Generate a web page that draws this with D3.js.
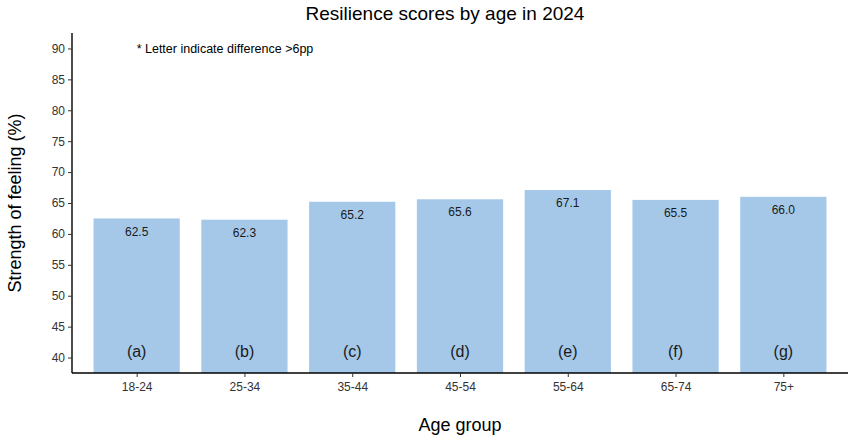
<!DOCTYPE html>
<html>
<head>
<meta charset="utf-8">
<script src="https://cdn.jsdelivr.net/npm/d3@7"></script>
<style>
  html, body { margin: 0; padding: 0; background: #fff; }
  svg { display: block; font-family: "Liberation Sans", Arial, Helvetica, sans-serif; }
</style>
</head>
<body>
<svg id="chart" width="849" height="436"></svg>
<script>
// Resilience scores by age group, 2024
const ageGroups = ["18-24", "25-34", "35-44", "45-54", "55-64", "65-74", "75+"];
const scores = [62.5, 62.3, 65.2, 65.6, 67.1, 65.5, 66.0];
const letters = ["(a)", "(b)", "(c)", "(d)", "(e)", "(f)", "(g)"];
const yTicks = [40, 45, 50, 55, 60, 65, 70, 75, 80, 85, 90];

const svg = d3.select("#chart");
const margin = { left: 72, right: 1, top: 33, bottom: 63 };
const W = 849, H = 436;
const plotW = W - margin.left - margin.right;
const plotH = H - margin.top - margin.bottom;

const g = svg.append("g").attr("transform", `translate(${margin.left},${margin.top})`);

// discrete scale with 0.6-unit padding at both ends, bars 0.8 units wide
const n = ageGroups.length;
const step = plotW / (n - 1 + 1.2);
const x = d3.scalePoint().domain(ageGroups).range([0.6 * step, plotW - 0.6 * step]);
const barW = 0.8 * step;

const y = d3.scaleLinear().domain([37.5, 92.5]).range([plotH, 0]);

// bars
g.selectAll("rect.bar")
  .data(ageGroups)
  .join("rect")
  .attr("class", "bar")
  .attr("x", d => x(d) - barW / 2)
  .attr("width", barW)
  .attr("y", (d, i) => y(scores[i]))
  .attr("height", (d, i) => y(37.5) - y(scores[i]))
  .attr("fill", "#a5c8e9");

// value labels just inside the bar tops
g.selectAll("text.val")
  .data(ageGroups)
  .join("text")
  .attr("class", "val")
  .attr("x", d => x(d))
  .attr("y", (d, i) => y(scores[i]) + 13)
  .attr("dy", "0.35em")
  .attr("text-anchor", "middle")
  .attr("font-size", 12)
  .attr("fill", "#1a1a1a")
  .text((d, i) => scores[i].toFixed(1));

// group letters near the base
g.selectAll("text.letter")
  .data(ageGroups)
  .join("text")
  .attr("class", "letter")
  .attr("x", d => x(d))
  .attr("y", y(41))
  .attr("dy", "0.35em")
  .attr("text-anchor", "middle")
  .attr("font-size", 16)
  .attr("fill", "#1a1a1a")
  .text((d, i) => letters[i]);

// footnote
g.append("text")
  .attr("x", x(ageGroups[0]))
  .attr("y", y(90))
  .attr("dy", "0.35em")
  .attr("font-size", 12.5)
  .attr("fill", "#000")
  .text("* Letter indicate difference >6pp");

// axes
const yAxis = g.append("g")
  .call(d3.axisLeft(y).tickValues(yTicks).tickSize(4).tickPadding(3));
const xAxis = g.append("g")
  .attr("transform", `translate(0,${plotH})`)
  .call(d3.axisBottom(x).tickSize(4).tickPadding(5));

[yAxis, xAxis].forEach(ax => {
  ax.select(".domain").attr("stroke", "#000").attr("stroke-width", 1.4);
  ax.selectAll(".tick line").attr("stroke", "#333").attr("stroke-width", 1);
  ax.selectAll(".tick text").attr("fill", "#333").attr("font-size", 12)
    .style("font-family", '"Liberation Sans", Arial, Helvetica, sans-serif');
});
xAxis.select(".domain").attr("d", `M0,0H${plotW}`);
yAxis.select(".domain").attr("d", `M0,0V${plotH}`);

// titles
svg.append("text")
  .attr("x", margin.left + plotW / 2 - 15)
  .attr("y", 20)
  .attr("text-anchor", "middle")
  .attr("font-size", 19)
  .attr("fill", "#000")
  .text("Resilience scores by age in 2024");

svg.append("text")
  .attr("x", margin.left + plotW / 2)
  .attr("y", 431)
  .attr("text-anchor", "middle")
  .attr("font-size", 18)
  .attr("fill", "#000")
  .text("Age group");

svg.append("text")
  .attr("transform", `translate(21,${margin.top + plotH / 2}) rotate(-90)`)
  .attr("text-anchor", "middle")
  .attr("font-size", 18)
  .attr("fill", "#000")
  .text("Strength of feeling (%)");
</script>
</body>
</html>
